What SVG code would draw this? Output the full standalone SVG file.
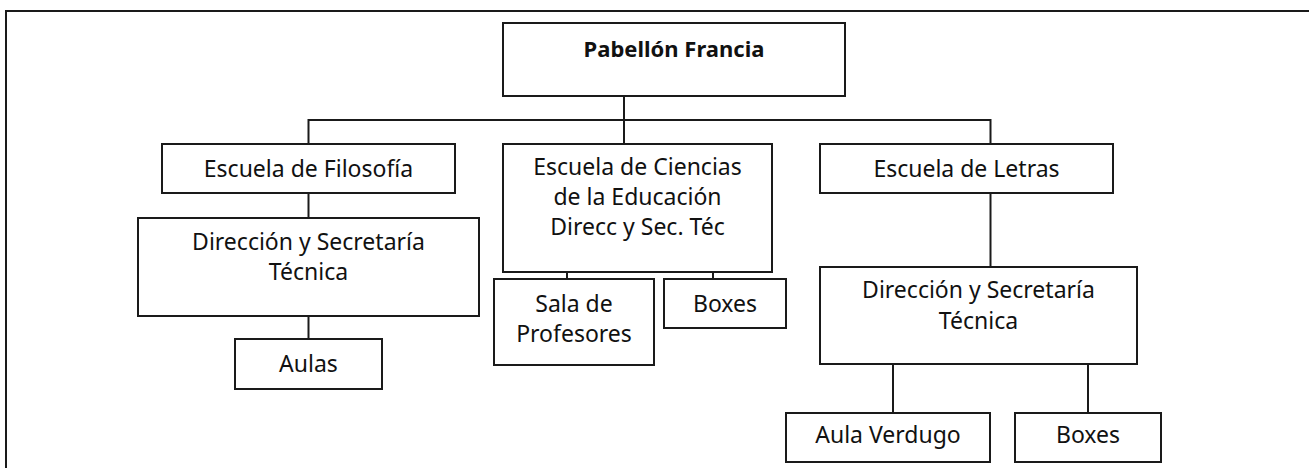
<svg xmlns="http://www.w3.org/2000/svg" width="1309" height="468" viewBox="0 0 1309 468">
<style>
.box{fill:#fff;stroke:#1a1a1a;stroke-width:2}
.t{font-family:"Noto Sans","DejaVu Sans",sans-serif;font-size:23px;fill:#111;text-anchor:middle}
.b{font-weight:bold;font-size:22px}
.c{fill:none;stroke:#1a1a1a;stroke-width:2}
</style>
<rect width="1309" height="468" fill="#fff"/>
<path class="c" d="M6,469 V11 H1310"/>
<g id="connectors">
<path class="c" d="M624,96 V144"/>
<path class="c" d="M308.5,144 V120 H990.5 V144"/>
<path class="c" d="M308.5,193 V218"/>
<path class="c" d="M308.5,316 V339"/>
<path class="c" d="M567,272 V279"/>
<path class="c" d="M713,272 V279"/>
<path class="c" d="M990.5,193 V267"/>
<path class="c" d="M893,364 V413"/>
<path class="c" d="M1088,364 V413"/>
</g>
<g id="pabellon"><rect class="box" x="503" y="23" width="342" height="73"/><text class="t b" x="674" y="57">Pabellón Francia</text></g>
<g id="filosofia"><rect class="box" x="162" y="144" width="293" height="49"/><text class="t" x="308.5" y="177">Escuela de Filosofía</text></g>
<g id="ciencias"><rect class="box" x="503" y="144" width="269" height="128"/><text class="t" x="637.5" y="175">Escuela de Ciencias</text><text class="t" x="637.5" y="205">de la Educación</text><text class="t" x="637.5" y="235">Direcc y Sec. Téc</text></g>
<g id="letras"><rect class="box" x="820" y="144" width="293" height="49"/><text class="t" x="966.5" y="177">Escuela de Letras</text></g>
<g id="dir-filosofia"><rect class="box" x="138" y="218" width="341" height="98"/><text class="t" x="308.5" y="250">Dirección y Secretaría</text><text class="t" x="308.5" y="280">Técnica</text></g>
<g id="aulas"><rect class="box" x="235" y="339" width="147" height="50"/><text class="t" x="308.5" y="372">Aulas</text></g>
<g id="sala"><rect class="box" x="494" y="279" width="160" height="86"/><text class="t" x="574" y="312">Sala de</text><text class="t" x="574" y="342">Profesores</text></g>
<g id="boxes-ciencias"><rect class="box" x="664" y="279" width="122" height="49"/><text class="t" x="725" y="312">Boxes</text></g>
<g id="dir-letras"><rect class="box" x="820" y="267" width="317" height="97"/><text class="t" x="978.5" y="298">Dirección y Secretaría</text><text class="t" x="978.5" y="329">Técnica</text></g>
<g id="aula-verdugo"><rect class="box" x="786" y="413" width="204" height="49"/><text class="t" x="888" y="443">Aula Verdugo</text></g>
<g id="boxes-letras"><rect class="box" x="1015" y="413" width="146" height="49"/><text class="t" x="1088" y="443">Boxes</text></g>
</svg>
